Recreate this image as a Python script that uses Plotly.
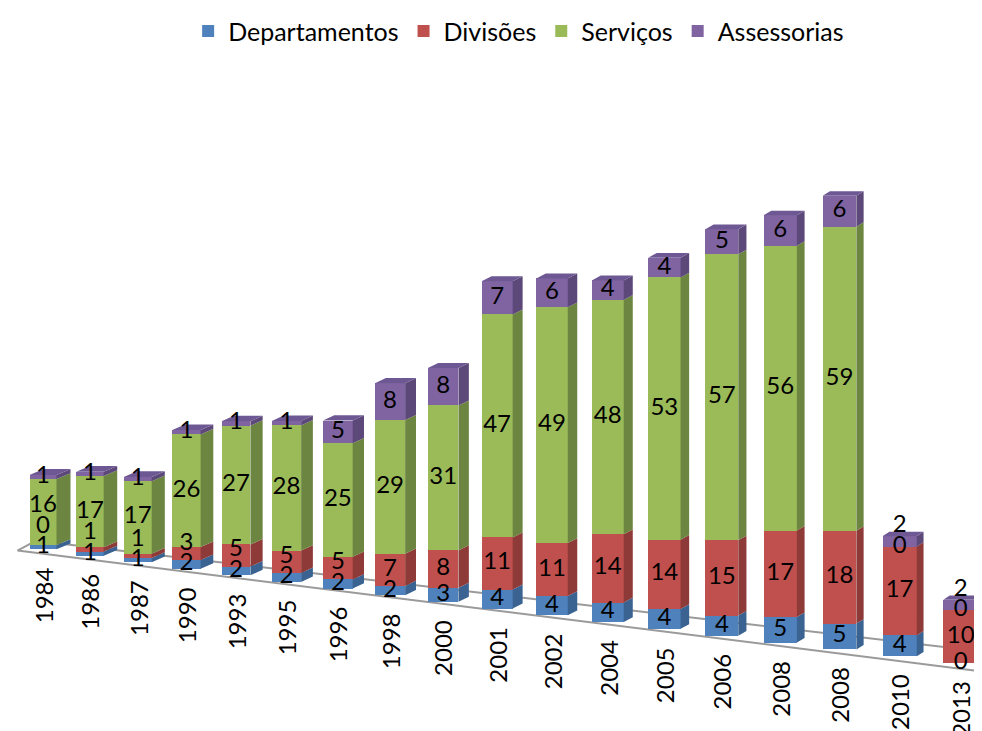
import plotly.graph_objects as go

# ---------------- data ----------------
years = ["1984", "1986", "1987", "1990", "1993", "1995", "1996", "1998", "2000",
         "2001", "2002", "2004", "2005", "2006", "2008", "2008", "2010", "2013"]
departamentos = [1, 1, 1, 2, 2, 2, 2, 2, 3, 4, 4, 4, 4, 4, 5, 5, 4, 0]
divisoes = [0, 1, 1, 3, 5, 5, 5, 7, 8, 11, 11, 14, 14, 15, 17, 18, 17, 10]
servicos = [16, 17, 17, 26, 27, 28, 25, 29, 31, 47, 49, 48, 53, 57, 56, 59, 0, 0]
assessorias = [1, 1, 1, 1, 1, 1, 5, 8, 8, 7, 6, 4, 4, 5, 6, 6, 2, 2]

series_names = ["Departamentos", "Divisões", "Serviços", "Assessorias"]
series_values = [departamentos, divisoes, servicos, assessorias]
front_colors = ["#4F81BD", "#C0504D", "#9BBB59", "#8064A2"]
side_colors = ["#3A6391", "#8E3A38", "#6C8540", "#5C4879"]
top_colors = ["#4672A8", "#A84643", "#86A24C", "#6E5894"]

# ------------- perspective model (style only) -------------
W, H = 982, 731
S0 = 4.22          # px per unit at first column
Y0 = 537.0         # floor px of first column
FONT = "Lato, 'Open Sans', sans-serif"


def cx(t):
    return 35 + 46.5 * t + 0.44 * t * t


def floor_px(t):
    return 537 + 6.6 * t + 0.015 * t * t


def scale(t):
    return 4.22 + 0.07 * t


def front_w(t):
    return 27 + 0.45 * t


def side_dx(t):
    return 14 - 0.45 * t


def side_dy(t):
    return 6 - 0.1 * t


def to_y(py):
    return (Y0 - py) / S0


n = len(years)
fig = go.Figure()

# floor outline
FLx, FLy = cx(-0.55), floor_px(-0.55) + 5
FRx, FRy = cx(17.45), floor_px(17.45) + 6
BLx, BLy = FLx + 18, FLy - 10
BRx, BRy = FRx + 4, FRy - 20
for (xa, ya, xb, yb) in [(FLx, FLy, FRx, FRy), (BLx, BLy, BRx, BRy),
                         (FLx, FLy, BLx, BLy), (FRx, FRy, BRx, BRy)]:
    fig.add_shape(type="line", x0=xa, y0=to_y(ya), x1=xb, y1=to_y(yb),
                  line=dict(color="#9A9A9A", width=2), layer="below")

# front faces (bars)
cum = [0.0] * n
seg_px = []  # (bottom_px, top_px) per series per column
for j, (name, vals) in enumerate(zip(series_names, series_values)):
    xs, bases, heights, widths = [], [], [], []
    rows = []
    for i in range(n):
        s = scale(i)
        b_px = floor_px(i) - s * cum[i]
        t_px = b_px - s * vals[i]
        rows.append((b_px, t_px))
        xs.append(cx(i))
        bases.append(to_y(b_px))
        heights.append(vals[i] * s / S0)
        widths.append(front_w(i))
        cum[i] += vals[i]
    seg_px.append(rows)
    fig.add_trace(go.Bar(
        x=xs, y=heights, base=bases, width=widths, name=name,
        marker=dict(color=front_colors[j], line=dict(width=0)),
        hoverinfo="skip", showlegend=True))

# side faces
for j, vals in enumerate(series_values):
    px_, py_ = [], []
    for i in range(n):
        if vals[i] <= 0:
            continue
        b_px, t_px = seg_px[j][i]
        xr = cx(i) + front_w(i) / 2
        dx, dy = side_dx(i), side_dy(i)
        pts = [(xr, b_px), (xr, t_px), (xr + dx, t_px - dy), (xr + dx, b_px - dy)]
        for (a, b) in pts:
            px_.append(a)
            py_.append(to_y(b))
        px_.append(None)
        py_.append(None)
    fig.add_trace(go.Scatter(x=px_, y=py_, mode="lines", fill="toself",
                             fillcolor=side_colors[j], line=dict(width=0, color=side_colors[j]),
                             hoverinfo="skip", showlegend=False))

# top faces
top_by_color = {j: ([], []) for j in range(4)}
for i in range(n):
    jtop = max(j for j in range(4) if series_values[j][i] > 0)
    t_px = seg_px[jtop][i][1]
    xl = cx(i) - front_w(i) / 2
    xr = cx(i) + front_w(i) / 2
    dx, dy = side_dx(i), side_dy(i)
    pts = [(xl, t_px), (xr, t_px), (xr + dx, t_px - dy), (xl + dx, t_px - dy)]
    xx, yy = top_by_color[jtop]
    for (a, b) in pts:
        xx.append(a)
        yy.append(to_y(b))
    xx.append(None)
    yy.append(None)
for j, (xx, yy) in top_by_color.items():
    if xx:
        fig.add_trace(go.Scatter(x=xx, y=yy, mode="lines", fill="toself",
                                 fillcolor=top_colors[j], line=dict(width=0, color=top_colors[j]),
                                 hoverinfo="skip", showlegend=False))

# value labels (centered in segment, nudged up when overlapping)
lx, ly, lt = [], [], []
GAP = 21
for i in range(n):
    prev = None
    for j, vals in enumerate(series_values):
        b_px, t_px = seg_px[j][i]
        c = (b_px + t_px) / 2
        if prev is not None and c > prev - GAP:
            c = prev - GAP
        prev = c
        lx.append(cx(i))
        ly.append(to_y(c))
        lt.append(str(vals[i]))
fig.add_trace(go.Scatter(x=lx, y=ly, text=lt, mode="text",
                         textfont=dict(family=FONT, size=24, color="black"),
                         textposition="middle center", hoverinfo="skip", showlegend=False))

# category labels (rotated, following the floor)
for i in range(n):
    fig.add_annotation(x=cx(i), y=to_y(floor_px(i) + 47), text=years[i],
                       textangle=-90, showarrow=False, xanchor="center", yanchor="middle",
                       font=dict(family=FONT, size=24, color="black"))

fig.update_layout(
    width=W, height=H,
    margin=dict(l=0, r=0, t=0, b=0),
    paper_bgcolor="white", plot_bgcolor="white",
    barmode="overlay", bargap=0,
    xaxis=dict(range=[0, W], visible=False, fixedrange=True),
    yaxis=dict(range=[to_y(H), to_y(0)], visible=False, fixedrange=True),
    showlegend=True,
    legend=dict(orientation="h", x=0.52, xanchor="center", y=1.022, yanchor="top",
                font=dict(family=FONT, size=25, color="black"), itemwidth=30,
                bgcolor="rgba(0,0,0,0)"),
    font=dict(family=FONT, color="black"),
)

fig.write_html("out.html")
